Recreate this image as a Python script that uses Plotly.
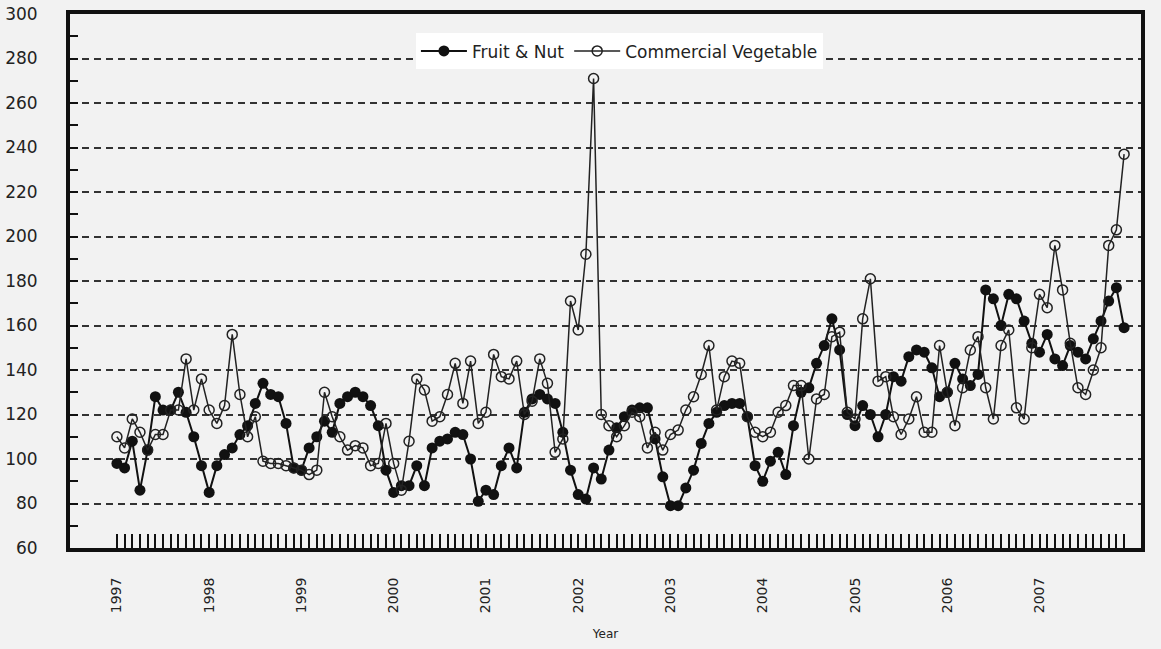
import plotly.graph_objects as go

years = [1997, 1998, 1999, 2000, 2001, 2002, 2003, 2004, 2005, 2006, 2007]

fruit_nut = [
    98, 96, 108, 86, 104, 128, 122, 122, 130, 121, 110, 97,
    85, 97, 102, 105, 111, 115, 125, 134, 129, 128, 116, 96,
    95, 105, 110, 117, 112, 125, 128, 130, 128, 124, 115, 95,
    85, 88, 88, 97, 88, 105, 108, 109, 112, 111, 100, 81,
    86, 84, 97, 105, 96, 121, 127, 129, 127, 125, 112, 95,
    84, 82, 96, 91, 104, 114, 119, 122, 123, 123, 109, 92,
    79, 79, 87, 95, 107, 116, 121, 124, 125, 125, 119, 97,
    90, 99, 103, 93, 115, 130, 132, 143, 151, 163, 149, 120,
    115, 124, 120, 110, 120, 137, 135, 146, 149, 148, 141, 128,
    130, 143, 136, 133, 138, 176, 172, 160, 174, 172, 162, 152,
    148, 156, 145, 142, 151, 148, 145, 154, 162, 171, 177, 159,
]

commercial_vegetable = [
    110, 105, 118, 112, 104, 111, 111, 122, 122, 145, 122, 136,
    122, 116, 124, 156, 129, 110, 119, 99, 98, 98, 97, 96,
    95, 93, 95, 130, 119, 110, 104, 106, 105, 97, 98, 116,
    98, 86, 108, 136, 131, 117, 119, 129, 143, 125, 144, 116,
    121, 147, 137, 136, 144, 120, 126, 145, 134, 103, 109, 171,
    158, 192, 271, 120, 115, 110, 115, 121, 119, 105, 112, 104,
    111, 113, 122, 128, 138, 151, 122, 137, 144, 143, 119, 112,
    110, 112, 121, 124, 133, 133, 100, 127, 129, 155, 157, 121,
    118, 163, 181, 135, 137, 119, 111, 118, 128, 112, 112, 151,
    130, 115, 132, 149, 155, 132, 118, 151, 158, 123, 118, 150,
    174, 168, 196, 176, 152, 132, 129, 140, 150, 196, 203, 237,
]

months = list(range(len(fruit_nut)))
tick_text = [str(years[m // 12]) if m % 12 == 0 else "" for m in months]

FONT = "DejaVu Sans, Verdana, sans-serif"
BG = "#f2f2f2"

fig = go.Figure()
fig.add_trace(go.Scatter(
    x=months, y=fruit_nut, name="Fruit & Nut", mode="lines+markers",
    line=dict(color="#111111", width=2),
    marker=dict(symbol="circle", size=11, color="#111111"),
))
fig.add_trace(go.Scatter(
    x=months, y=commercial_vegetable, name="Commercial Vegetable", mode="lines+markers",
    line=dict(color="#222222", width=1.5),
    marker=dict(symbol="circle-open", size=10, color="#222222", line=dict(width=1.5)),
))

fig.update_layout(
    width=1161, height=649,
    paper_bgcolor=BG, plot_bgcolor=BG,
    margin=dict(l=70, r=20, t=14, b=101, autoexpand=False),
    font=dict(family=FONT, size=15, color="#222222"),
    showlegend=True,
    legend=dict(
        orientation="h", x=0.513, y=0.93, xanchor="center", yanchor="middle",
        bgcolor="#ffffff", font=dict(size=17, color="#222222"),
        itemwidth=46, tracegroupgap=0,
    ),
)

fig.update_xaxes(
    range=[-6.1, 133.2], automargin=False,
    tickmode="array", tickvals=months, ticktext=tick_text,
    ticks="inside", ticklen=14, tickwidth=1.5, tickcolor="#111111",
    tickangle=-90, ticklabelstandoff=20,
    showgrid=False, zeroline=False,
    showline=True, linecolor="#111111", linewidth=4, mirror=True,
    title=dict(text="Year", font=dict(size=12), standoff=18),
    tickfont=dict(size=14),
)
fig.update_yaxes(
    range=[60, 300], dtick=20, tick0=60, automargin=False,
    ticks="inside", ticklen=8, tickwidth=1.5, tickcolor="#111111",
    minor=dict(dtick=10, ticks="inside", ticklen=8, tickwidth=1.5, tickcolor="#111111", showgrid=False),
    showgrid=True, gridcolor="#333333", gridwidth=2, griddash="7px,5px",
    zeroline=False,
    showline=True, linecolor="#111111", linewidth=4, mirror=True,
    ticklabelstandoff=25,
    tickfont=dict(size=17),
)

fig.write_html(
    "out.html",
    config={"displayModeBar": False},
    post_script="document.body.style.margin='0';document.body.style.background='#f2f2f2';",
)
